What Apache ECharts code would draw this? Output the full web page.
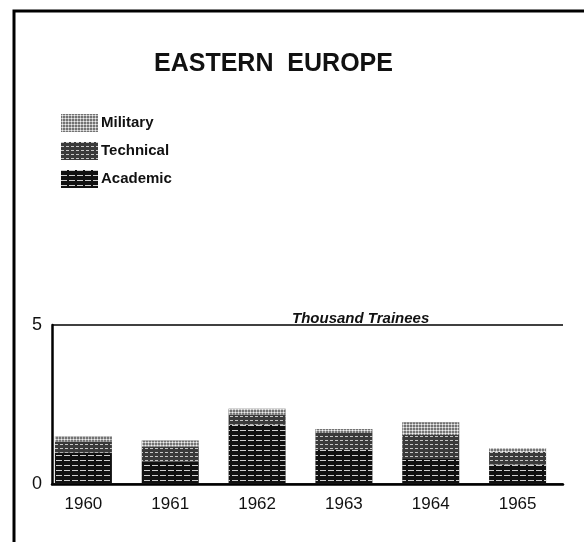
<!DOCTYPE html>
<html>
<head>
<meta charset="utf-8">
<script src="https://cdn.jsdelivr.net/npm/echarts@6/dist/echarts.min.js"></script>
<style>
html,body{margin:0;padding:0;background:#fff;}
#chart{width:584px;height:542px;}
</style>
</head>
<body>
<div id="chart"></div>
<script>
const years = ['1960', '1961', '1962', '1963', '1964', '1965'];
const academic = [0.98, 0.70, 1.86, 1.07, 0.79, 0.61];
const technical = [0.35, 0.48, 0.32, 0.53, 0.75, 0.40];
const military = [0.17, 0.19, 0.19, 0.13, 0.40, 0.12];
const yTicks = [0, 5];
const title = 'EASTERN  EUROPE';
const unitLabel = 'Thousand Trainees';

const chart = echarts.init(document.getElementById('chart'), null, {renderer: 'canvas'});
const font = 'Liberation Sans';

const option = {
  backgroundColor: '#fff',
  animation: false,
  title: [{
    text: title,
    left: 149,
    top: 47,
    textStyle: {fontFamily: font, fontSize: 25, fontWeight: 'bold', color: '#111'}
  }, {
    text: unitLabel,
    left: 287,
    top: 306,
    textStyle: {fontFamily: font, fontSize: 15, fontStyle: 'italic', fontWeight: 'bold', color: '#111'}
  }],
  graphic: [{
    type: 'rect',
    shape: {x: 14, y: 11, width: 700, height: 700},
    style: {fill: 'none', stroke: '#000', lineWidth: 3},
    silent: true
  }],
  legend: {
    orient: 'vertical',
    left: 56,
    top: 109,
    itemWidth: 37,
    itemHeight: 18,
    itemGap: 10,
    icon: 'rect',
    data: ['Military', 'Technical', 'Academic'],
    textStyle: {fontFamily: font, fontSize: 15, fontWeight: 'bold', color: '#111', padding: [0, 0, 0, -2]}
  },
  grid: [
    {left: 40, right: 23, top: 325, bottom: 58},
    {left: 52, right: 21, top: 325, bottom: 58}
  ],
  xAxis: [{
    type: 'category',
    gridIndex: 0,
    data: years,
    axisLine: {show: false},
    axisTick: {show: false},
    splitLine: {show: false},
    axisLabel: {margin: 12, fontFamily: font, fontSize: 17, color: '#111'}
  }, {
    type: 'value',
    gridIndex: 1,
    min: 0,
    max: 1,
    axisLine: {show: true, onZero: false, lineStyle: {color: '#000', width: 2.5}},
    axisTick: {show: false},
    axisLabel: {show: false},
    splitLine: {show: false}
  }],
  yAxis: [{
    type: 'value',
    gridIndex: 0,
    min: 0,
    max: 5,
    show: false
  }, {
    type: 'value',
    gridIndex: 1,
    min: 0,
    max: 5,
    interval: 5,
    axisLine: {show: true, lineStyle: {color: '#000', width: 2.5}},
    axisTick: {show: false},
    axisLabel: {margin: 10, fontFamily: font, fontSize: 18, color: '#111'},
    splitLine: {show: true, lineStyle: {color: '#000', width: 1.5}}
  }],
  series: [{
    name: 'Academic',
    type: 'bar',
    stack: 'total',
    barWidth: 57,
    data: academic,
    itemStyle: {
      color: '#111',
      decal: {symbol: 'rect', color: 'rgba(255,255,255,0.8)', dashArrayX: [[6, 2]], dashArrayY: [1, 4], symbolSize: 1}
    }
  }, {
    name: 'Technical',
    type: 'bar',
    stack: 'total',
    barWidth: 57,
    data: technical,
    itemStyle: {
      color: '#3a3a3a',
      decal: {symbol: 'rect', color: 'rgba(225,225,225,0.85)', dashArrayX: [[3, 2]], dashArrayY: [1, 3], symbolSize: 1}
    }
  }, {
    name: 'Military',
    type: 'bar',
    stack: 'total',
    barWidth: 57,
    data: military,
    itemStyle: {
      color: '#4a4a4a',
      decal: {symbol: 'circle', color: '#f0f0f0', dashArrayX: [3, 0], dashArrayY: [3, 0], symbolSize: 0.8}
    }
  }]
};
chart.setOption(option);
</script>
</body>
</html>
